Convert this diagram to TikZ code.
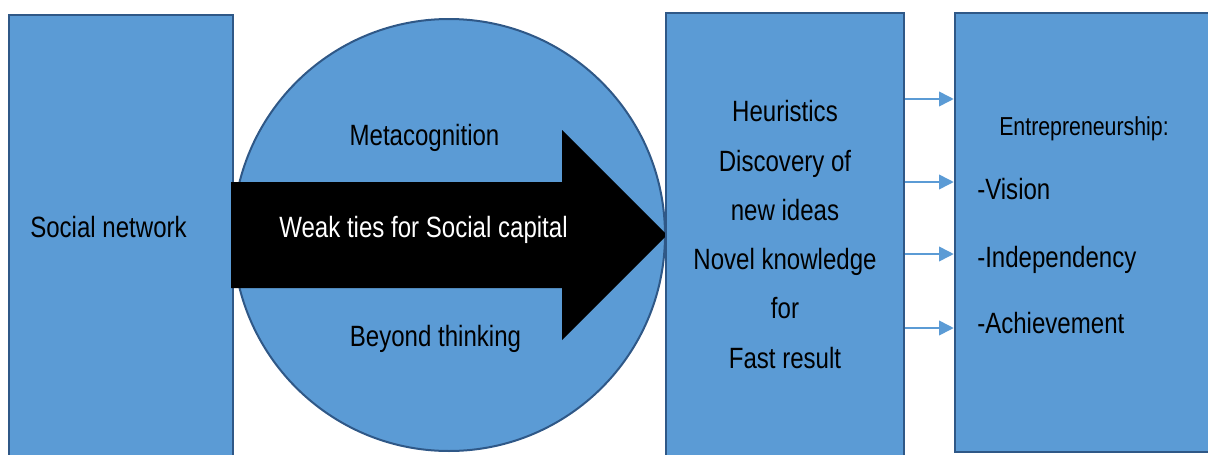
\documentclass[tikz,border=0pt]{standalone}
\usepackage{fontspec}
\setmainfont{Liberation Sans}[FakeStretch=0.82]
\usetikzlibrary{arrows.meta}

\definecolor{boxfill}{RGB}{91,155,213}
\definecolor{boxline}{RGB}{47,88,135}

\tikzset{
  block/.style={rectangle,fill=boxfill,draw=boxline,line width=1.9pt,inner sep=0pt},
  lbl/.style={font=\fontsize{22}{26}\selectfont,anchor=base,inner sep=0pt},
  link/.style={draw=boxfill,line width=1.2pt,-{Triangle[length=11pt,width=11pt]}}
}

\begin{document}
\begin{tikzpicture}[x=0.75pt,y=-0.75pt]
  \useasboundingbox (0,0) rectangle (1208,454);

  % social network block
  \node[block,minimum width=168pt,minimum height=341.25pt] (net) at (121,242.5) {};
  \node[lbl] (netlbl) at (108.5,237) {Social network};

  % circle behind the arrow
  \node[circle,fill=boxfill,draw=boxline,line width=1.5pt,minimum size=324pt,inner sep=0pt] (mind) at (449,235) {};
  \node[lbl] (meta) at (424.5,145) {Metacognition};
  \node[lbl] (beyond) at (435.5,346) {Beyond thinking};

  % big black arrow
  \fill (231,182) -- (562,182) -- (562,130) -- (667,235) -- (562,340) -- (562,288) -- (231,288) -- cycle;
  \node[lbl,text=white] (ties) at (423.5,237) {Weak ties for Social capital};

  % heuristics block
  \node[block,minimum width=178.5pt,minimum height=342.75pt] (ideas) at (785,241.5) {};
  \foreach \txt [count=\i] in {Heuristics,Discovery of,new ideas,Novel knowledge,for,Fast result}
    \node[lbl] (idea\i) at (785,{121.7+49.3*(\i-1)}) {\txt};

  % entrepreneurship block
  \node[block,minimum width=198.75pt,minimum height=329.25pt] (entre) at (1087.5,232.5) {};
  \node[lbl,font=\fontsize{19.5}{23}\selectfont] (title) at (1084,135) {Entrepreneurship:};
  \node[lbl,anchor=base west] (vision) at (977,199) {-Vision};
  \node[lbl,anchor=base west] (indep) at (977,267) {-Independency};
  \node[lbl,anchor=base west] (achieve) at (977,333) {-Achievement};

  \foreach \y in {99,182,254,328}
    \draw[link] (ideas.east |- 0,\y) -- (entre.west |- 0,\y);
\end{tikzpicture}
\end{document}
